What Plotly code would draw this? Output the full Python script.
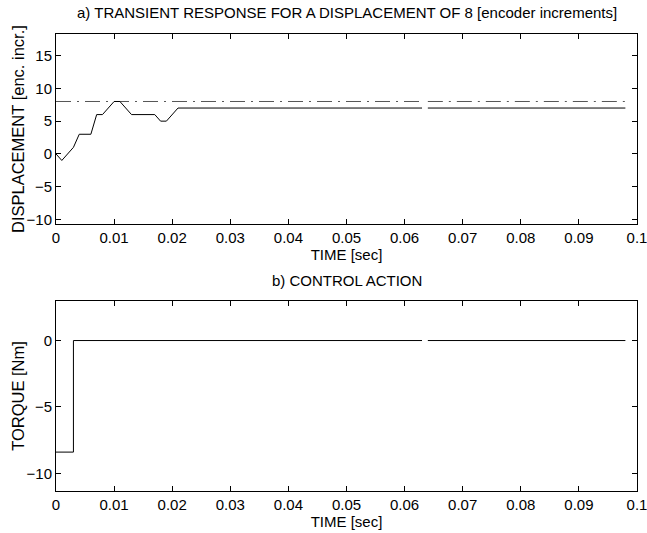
import plotly.graph_objects as go
from plotly.subplots import make_subplots

# --- data ---
t_disp = [0, 0.001, 0.003, 0.004, 0.006, 0.007, 0.008, 0.010, 0.011, 0.013,
          0.017, 0.018, 0.019, 0.021, 0.063, 0.0635, 0.064, 0.098]
displacement = [0, -1, 1, 3, 3, 6, 6, 8, 8, 6, 6, 5, 5, 7, 7, None, 7, 7]

t_ref = [0, 0.063, 0.0635, 0.064, 0.098]
reference = [8, 8, None, 8, 8]

t_torque = [0, 0.003, 0.003, 0.063, 0.0635, 0.064, 0.098]
torque = [-8.4, -8.4, 0, 0, None, 0, 0]

x_ticks = [0, 0.01, 0.02, 0.03, 0.04, 0.05, 0.06, 0.07, 0.08, 0.09, 0.1]
x_ticklabels = ["0", "0.01", "0.02", "0.03", "0.04", "0.05", "0.06", "0.07", "0.08", "0.09", "0.1"]
y1_ticks = [15, 10, 5, 0, -5, -10]
y2_ticks = [0, -5, -10]

FONT = "Liberation Sans, Arial, sans-serif"
TXT = dict(family=FONT, size=15, color="black")
YT = dict(family=FONT, size=16.5, color="black")

TOP_DOMAIN = [0.5842, 1.0]
BOT_DOMAIN = [0, 0.4164]

fig = make_subplots(rows=2, cols=1, shared_xaxes=False, vertical_spacing=0.17)

fig.add_trace(go.Scatter(x=t_ref, y=reference, mode="lines",
                         line=dict(color="#555555", width=1, dash="15px,6px,2px,6px"),
                         connectgaps=False, showlegend=False), row=1, col=1)
fig.add_trace(go.Scatter(x=t_disp, y=displacement, mode="lines",
                         line=dict(color="black", width=1),
                         connectgaps=False, showlegend=False), row=1, col=1)
fig.add_trace(go.Scatter(x=t_torque, y=torque, mode="lines",
                         line=dict(color="black", width=1),
                         connectgaps=False, showlegend=False), row=2, col=1)

axis_common = dict(showline=True, linecolor="black", linewidth=1, mirror="ticks",
                   ticks="inside", ticklen=5, tickcolor="black", showgrid=False,
                   zeroline=False, automargin=False, tickfont=TXT,
                   ticklabeloverflow="allow")

fig.update_xaxes(range=[0, 0.1], tickvals=x_ticks, ticktext=x_ticklabels, **axis_common)
fig.update_xaxes(domain=[0, 1], row=1, col=1,
                 title=dict(text="TIME [sec]", font=TXT, standoff=0))
fig.update_xaxes(domain=[0, 1], row=2, col=1,
                 title=dict(text="TIME [sec]", font=TXT, standoff=0))

fig.update_yaxes(range=[-10.7, 18.3], tickvals=y1_ticks, domain=TOP_DOMAIN, row=1, col=1,
                 **axis_common)
fig.update_yaxes(range=[-11.33, 3], tickvals=y2_ticks, domain=BOT_DOMAIN, row=2, col=1,
                 **axis_common)

fig.update_layout(
    width=647, height=533,
    margin=dict(l=56, r=10, t=34, b=42),
    paper_bgcolor="white", plot_bgcolor="white",
    font=TXT,
    annotations=[
        dict(text="a) TRANSIENT RESPONSE FOR A DISPLACEMENT OF 8 [encoder increments]",
             x=0.5, xref="paper", y=1.0, yref="paper", yshift=11, xanchor="center", yanchor="bottom",
             showarrow=False, font=TXT),
        dict(text="b) CONTROL ACTION",
             x=0.5, xref="paper", y=BOT_DOMAIN[1], yref="paper", yshift=10, xanchor="center", yanchor="bottom",
             showarrow=False, font=TXT),
        dict(text="DISPLACEMENT [enc. incr.]", textangle=-90,
             x=0, xref="paper", xshift=-38, y=sum(TOP_DOMAIN) / 2, yref="paper",
             xanchor="center", yanchor="middle", showarrow=False, font=YT),
        dict(text="TORQUE [Nm]", textangle=-90,
             x=0, xref="paper", xshift=-38, y=sum(BOT_DOMAIN) / 2, yref="paper",
             xanchor="center", yanchor="middle", showarrow=False, font=YT),
    ],
)

fig.write_html("out.html")
